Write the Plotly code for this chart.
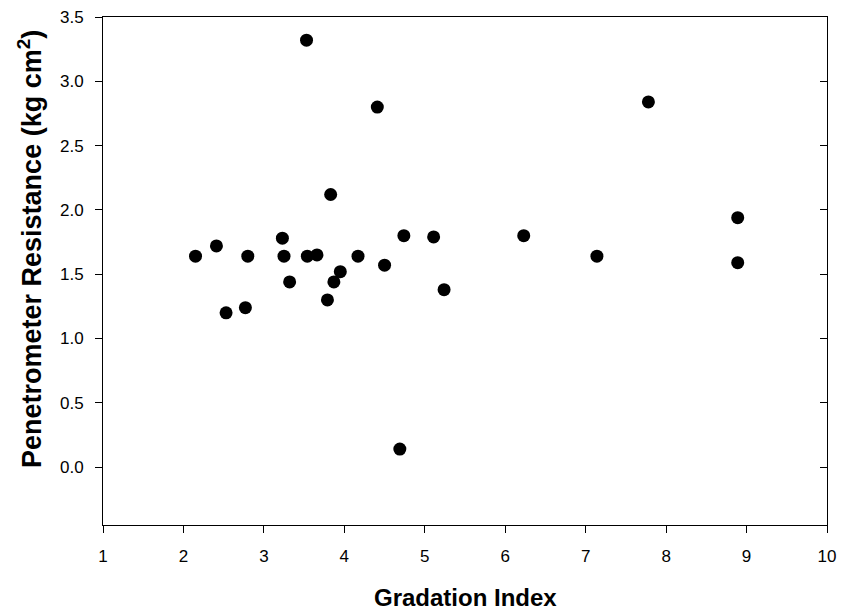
import plotly.graph_objects as go

gradation_index = [2.15, 2.41, 2.53, 2.77, 2.80, 3.23, 3.25, 3.32, 3.54, 3.66,
                   3.79, 3.87, 3.95, 4.17, 4.50, 4.74, 5.11, 5.24, 6.23, 7.14,
                   7.78, 8.89, 8.89, 3.53, 4.41, 3.83, 4.69]
penetrometer_resistance = [1.64, 1.72, 1.20, 1.24, 1.64, 1.78, 1.64, 1.44, 1.64, 1.65,
                           1.30, 1.44, 1.52, 1.64, 1.57, 1.80, 1.79, 1.38, 1.80, 1.64,
                           2.84, 1.94, 1.59, 3.32, 2.80, 2.12, 0.14]

x_ticks = [1, 2, 3, 4, 5, 6, 7, 8, 9, 10]
y_ticks = [0.0, 0.5, 1.0, 1.5, 2.0, 2.5, 3.0, 3.5]
x_range = [1, 10]
y_range = [-0.45, 3.5]
x_title = "<b>Gradation Index</b>"
y_title = "<b>Penetrometer Resistance (kg cm<sup>2</sup>)</b>"

FONT = "Liberation Sans, Arial, sans-serif"
W, H = 844, 612
ML, MR, MT, MB = 103, 17, 17, 87
PH = H - MT - MB
PW = W - ML - MR

fig = go.Figure()
fig.add_trace(go.Scatter(
    x=gradation_index, y=penetrometer_resistance, mode="markers",
    marker=dict(size=13, color="black", line=dict(width=0)),
    showlegend=False, hoverinfo="x+y",
))
fig.add_trace(go.Scatter(x=[None], y=[None], yaxis="y2", showlegend=False))

fig.update_layout(
    width=W, height=H,
    margin=dict(l=ML, r=MR, t=MT, b=MB, autoexpand=False),
    plot_bgcolor="white", paper_bgcolor="white",
    font=dict(family=FONT, color="black", size=17),
    xaxis=dict(
        range=x_range, tickvals=x_ticks, ticktext=[str(v) for v in x_ticks],
        showgrid=False, zeroline=False,
        showline=True, linecolor="black", linewidth=1, mirror=True,
        ticks="outside", ticklen=7, tickwidth=1, tickcolor="black",
        tickfont=dict(size=17, family=FONT), ticklabelstandoff=9,
    ),
    yaxis=dict(
        range=y_range, tickvals=y_ticks, tickformat=".1f",
        showgrid=False, zeroline=False,
        showline=True, linecolor="black", linewidth=1,
        ticks="outside", ticklen=7, tickwidth=1, tickcolor="black",
        tickfont=dict(size=17, family=FONT), ticklabelstandoff=8,
    ),
    yaxis2=dict(
        range=y_range, tickvals=y_ticks, overlaying="y", side="right",
        showgrid=False, zeroline=False, showticklabels=False,
        showline=True, linecolor="black", linewidth=1,
        ticks="inside", ticklen=7, tickwidth=1, tickcolor="black",
    ),
    annotations=[
        dict(text=x_title, xref="paper", yref="paper",
             x=0.5, y=(H - MB - 597) / PH,
             xanchor="center", yanchor="middle", showarrow=False,
             font=dict(size=24, family=FONT, color="black")),
        dict(text=y_title, xref="paper", yref="paper",
             x=(30 - ML) / PW, y=(H - MB - 249) / PH,
             xanchor="center", yanchor="middle", textangle=-90, showarrow=False,
             font=dict(size=27, family=FONT, color="black")),
    ],
)

fig.write_html("out.html", config={"displayModeBar": False},
               post_script="document.body.style.margin='0';document.body.style.padding='0';")
